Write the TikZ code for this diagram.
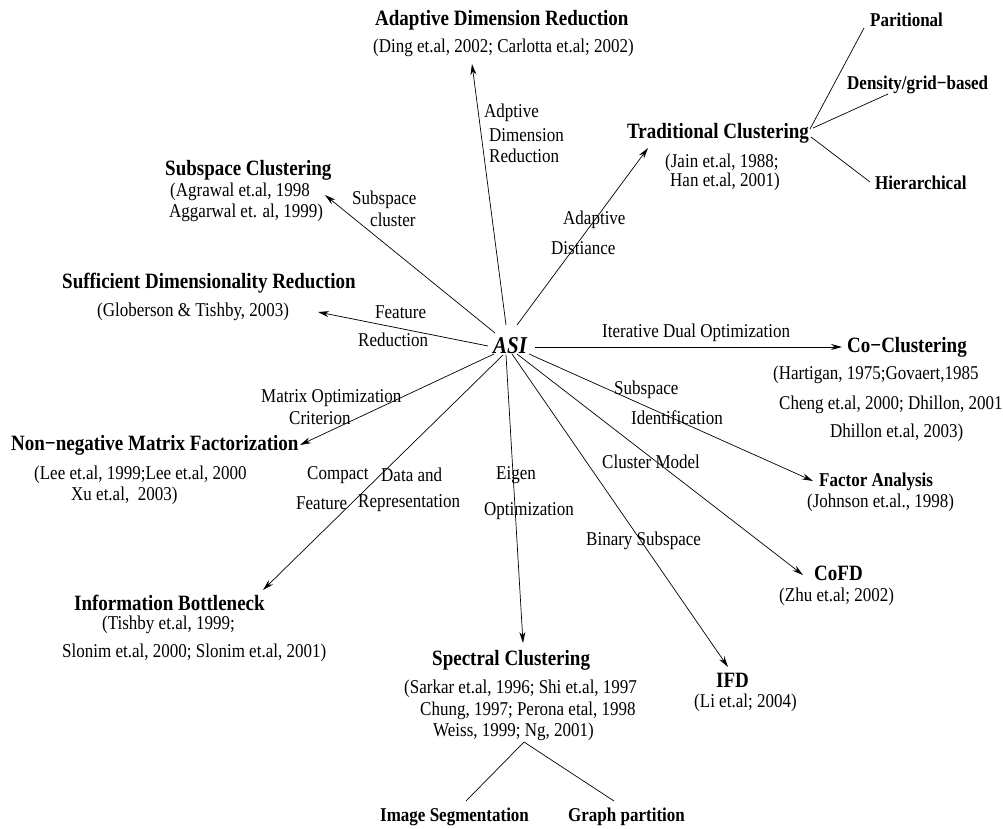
\documentclass[tikz,border=0pt]{standalone}
\usepackage{fontspec}
\setmainfont{Liberation Serif}
\usetikzlibrary{arrows.meta}
\begin{document}
\begin{tikzpicture}[x=1pt,y=-1pt,
  txt/.style={inner sep=0pt, anchor=west, yscale=1.15, transform shape},
  title/.style={txt, font=\fontsize{19}{21}\selectfont\bfseries},
  sub/.style={txt, font=\fontsize{17}{19}\selectfont\bfseries},
  ref/.style={txt, font=\fontsize{17}{19}\selectfont},
  lab/.style={txt, font=\fontsize{17}{19}\selectfont},
  arr/.style={-{Stealth[length=11pt,width=6pt]}, line width=0.7pt},
  ln/.style={line width=0.7pt}]
\useasboundingbox (0,0) rectangle (1003,829);

% central node
\node[txt, font=\fontsize{21}{23}\selectfont\bfseries\itshape] (asi) at (493,346) {ASI};

% targets
\node[title] (adr) at (375,20) {Adaptive Dimension Reduction};
\node[ref] (adrr) at (373,48) {(Ding et.al, 2002; Carlotta et.al; 2002)};

\node[title] (sc) at (165,170) {Subspace Clustering};
\node[ref] (scr1) at (170,192) {(Agrawal et.al, 1998};
\node[ref] (scr2) at (169,213) {Aggarwal et. al, 1999)};

\node[title] (sdr) at (62,283) {Sufficient Dimensionality Reduction};
\node[ref] (sdrr) at (97,312) {(Globerson \& Tishby, 2003)};

\node[title] (nmf) at (11,445) {Non−negative Matrix Factorization};
\node[ref] (nmfr1) at (34,475) {(Lee et.al, 1999;Lee et.al, 2000};
\node[ref] (nmfr2) at (71,496) {Xu et.al,\ \ 2003)};

\node[title] (ib) at (74,603) {Information Bottleneck};
\node[ref] (ibr1) at (102,625) {(Tishby et.al, 1999;};
\node[ref] (ibr2) at (62,653) {Slonim et.al, 2000; Slonim et.al, 2001)};

\node[title] (spc) at (432,660) {Spectral Clustering};
\node[ref] (spcr1) at (404,689) {(Sarkar et.al, 1996; Shi et.al, 1997};
\node[ref] (spcr2) at (420,711) {Chung, 1997; Perona etal, 1998};
\node[ref] (spcr3) at (433,732) {Weiss, 1999; Ng, 2001)};
\node[sub] (imgseg) at (380,817) {Image Segmentation};
\node[sub] (graph) at (568,817) {Graph partition};

\node[title] (ifd) at (716,680) {IFD};
\node[ref] (ifdr) at (694,703) {(Li et.al; 2004)};

\node[title] (cofd) at (814,573) {CoFD};
\node[ref] (cofdr) at (779,597) {(Zhu et.al; 2002)};

\node[sub] (fa) at (819,482) {Factor Analysis};
\node[ref] (far) at (807,503) {(Johnson et.al., 1998)};

\node[title] (cocl) at (847,347) {Co−Clustering};
\node[ref] (coclr1) at (773,375) {(Hartigan, 1975;Govaert,1985};
\node[ref] (coclr2) at (779,405) {Cheng et.al, 2000; Dhillon, 2001};
\node[ref] (coclr3) at (830,433) {Dhillon et.al, 2003)};

\node[title] (tc) at (627,133) {Traditional Clustering};
\node[ref] (tcr1) at (665,163) {(Jain et.al, 1988;};
\node[ref] (tcr2) at (670,182) {Han et.al, 2001)};
\node[sub] (par) at (870,20) {Paritional};
\node[sub] (dens) at (847,85) {Density/grid−based};
\node[sub] (hier) at (875,183) {Hierarchical};

% edge labels
\node[lab] (la1) at (484,113) {Adptive};
\node[lab] (la2) at (489,135) {Dimension};
\node[lab] (la3) at (489,156) {Reduction};
\node[lab] (lb1) at (563,220) {Adaptive};
\node[lab] (lb2) at (551,248) {Distiance};
\node[lab] (lc1) at (352,200) {Subspace};
\node[lab] (lc2) at (370,220) {cluster};
\node[lab] (ld1) at (375,312) {Feature};
\node[lab] (ld2) at (358,340) {Reduction};
\node[lab] (le1) at (261,398) {Matrix Optimization};
\node[lab] (le2) at (289,418) {Criterion};
\node[lab] (lf1) at (307,475) {Compact};
\node[lab] (lf2) at (381,475) {Data and};
\node[lab] (lf3) at (296,503) {Feature};
\node[lab] (lf4) at (358,503) {Representation};
\node[lab] (lg1) at (496,475) {Eigen};
\node[lab] (lg2) at (484,511) {Optimization};
\node[lab] (lh) at (586,541) {Binary Subspace};
\node[lab] (li) at (602,462) {Cluster Model};
\node[lab] (lj1) at (614,390) {Subspace};
\node[lab] (lj2) at (631,418) {Identification};
\node[lab] (lk) at (602,333) {Iterative Dual Optimization};

% connector end points
\coordinate (sa) at (506,325);  \coordinate (ta) at (472,64);
\coordinate (sb) at (517,325);  \coordinate (tb) at (648,148);
\coordinate (s_c) at (495,333); \coordinate (t_c) at (325,195);
\coordinate (sd) at (488,346);  \coordinate (td) at (318,312);
\coordinate (se) at (494,354);  \coordinate (te) at (300,445);
\coordinate (sf) at (503,355);  \coordinate (tf) at (263,590);
\coordinate (sg) at (506,355);  \coordinate (tg) at (523,643);
\coordinate (sh) at (512,354);  \coordinate (th) at (728,667);
\coordinate (si) at (517,354);  \coordinate (ti) at (803,575);
\coordinate (sj) at (529,354);  \coordinate (tj) at (813,481);
\coordinate (sk) at (535,347);  \coordinate (tk) at (842,347);

\draw[arr] (sa) -- (ta);
\draw[arr] (sb) -- (tb);
\draw[arr] (s_c) -- (t_c);
\draw[arr] (sd) -- (td);
\draw[arr] (se) -- (te);
\draw[arr] (sf) -- (tf);
\draw[arr] (sg) -- (tg);
\draw[arr] (sh) -- (th);
\draw[arr] (si) -- (ti);
\draw[arr] (sj) -- (tj);
\draw[arr] (sk) -- (tk);

% traditional clustering branches
\coordinate (tcp) at (810,129);
\coordinate (tcd) at (813,128);
\coordinate (tch) at (811,137);
\coordinate (pe) at (864,28);
\coordinate (de) at (888,94);
\coordinate (he) at (870,182);
\draw[ln] (tcp) -- (pe);
\draw[ln] (tcd) -- (de);
\draw[ln] (tch) -- (he);

% spectral branches
\coordinate (spp) at (524,742);
\coordinate (ise) at (466,801);
\coordinate (gpe) at (614,801);
\draw[ln] (spp) -- (ise);
\draw[ln] (spp) -- (gpe);
\end{tikzpicture}
\end{document}
